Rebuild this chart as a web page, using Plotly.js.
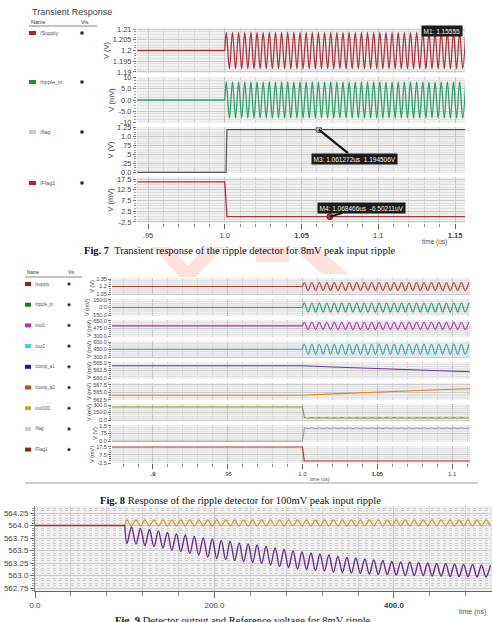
<!DOCTYPE html>
<html>
<head>
<meta charset="utf-8">
<script src="https://cdn.plot.ly/plotly-3.0.1.min.js"></script>
<style>
html,body{margin:0;padding:0;background:#fff;overflow:hidden}
#chart{width:492px;height:622px}
</style>
</head>
<body>
<div id="chart"></div>
<script>
// ---------- Fig. 7 : 8 mV peak input ripple (time in us) ----------
const fig7Time = [0.943, 1.0,
  1.001,1.003,1.005,1.007,1.009, 1.011,1.013,1.015,1.017,1.019,
  1.021,1.023,1.025,1.027,1.029, 1.031,1.033,1.035,1.037,1.039,
  1.041,1.043,1.045,1.047,1.049, 1.051,1.053,1.055,1.057,1.059,
  1.061,1.063,1.065,1.067,1.069, 1.071,1.073,1.075,1.077,1.079,
  1.081,1.083,1.085,1.087,1.089, 1.091,1.093,1.095,1.097,1.099,
  1.101,1.103,1.105,1.107,1.109, 1.111,1.113,1.115,1.117,1.119,
  1.121,1.123,1.125,1.127,1.129, 1.131,1.133,1.135,1.137,1.139,
  1.141,1.143,1.145,1.147,1.149, 1.151,1.153,1.155,1.157];
const fig7Supply = [1.2, 1.2,
  1.2085,1.1915,1.2085,1.1915,1.2085,1.1915,1.2085,1.1915,1.2085,1.1915,
  1.2085,1.1915,1.2085,1.1915,1.2085,1.1915,1.2085,1.1915,1.2085,1.1915,
  1.2085,1.1915,1.2085,1.1915,1.2085,1.1915,1.2085,1.1915,1.2085,1.1915,
  1.2085,1.1915,1.2085,1.1915,1.2085,1.1915,1.2085,1.1915,1.2085,1.1915,
  1.2085,1.1915,1.2085,1.1915,1.2085,1.1915,1.2085,1.1915,1.2085,1.1915,
  1.2085,1.1915,1.2085,1.1915,1.2085,1.1915,1.2085,1.1915,1.2085,1.1915,
  1.2085,1.1915,1.2085,1.1915,1.2085,1.1915,1.2085,1.1915,1.2085,1.1915,
  1.2085,1.1915,1.2085,1.1915,1.2085,1.1915,1.2085,1.1915,1.2085];
const fig7RippleIn = [0, 0,
  8.1,-8.1,8.1,-8.1,8.1,-8.1,8.1,-8.1,8.1,-8.1,
  8.1,-8.1,8.1,-8.1,8.1,-8.1,8.1,-8.1,8.1,-8.1,
  8.1,-8.1,8.1,-8.1,8.1,-8.1,8.1,-8.1,8.1,-8.1,
  8.1,-8.1,8.1,-8.1,8.1,-8.1,8.1,-8.1,8.1,-8.1,
  8.1,-8.1,8.1,-8.1,8.1,-8.1,8.1,-8.1,8.1,-8.1,
  8.1,-8.1,8.1,-8.1,8.1,-8.1,8.1,-8.1,8.1,-8.1,
  8.1,-8.1,8.1,-8.1,8.1,-8.1,8.1,-8.1,8.1,-8.1,
  8.1,-8.1,8.1,-8.1,8.1,-8.1,8.1,-8.1,8.1];
const fig7FlagTime = [0.943, 1.0008, 1.0014, 1.157];
const fig7Flag = [0.0, 0.0, 1.1945, 1.1945];
const fig7Flag1Time = [0.943, 1.0, 1.0014, 1.157];
const fig7Flag1 = [16.2, 16.2, 0.0, 0.0];
const m3Time = 1.061272, m3Volt = 1.194506;      // us, V
const m4Time = 1.068466, m4MicroVolt = -6.50211; // us, uV
const m1Text = 'M1: 1.15555';
const fig7Names = ['/Supply', '/ripple_in', '/flag', '/Flag1'];
const fig7XTicks = [0.95, 1.0, 1.05, 1.1, 1.15];
const fig7XLabels = ['.95', '1.0', '<b>1.05</b>', '1.1', '<b>1.15</b>'];
const fig7YTicks = [[1.21, 1.205, 1.2, 1.195, 1.19], [10, 5, 0, -5, -10], [1.25, 1.0, 0.75, 0.5, 0.25, 0.0], [17.5, 12.5, 7.5, 2.5, -2.5]];
const fig7YLabels = [['1.21', '1.205', '1.2', '1.195', '1.19'], ['10', '5.0', '0.0', '-5.0', '-10'], ['1.25', '1.0', '.75', '.5', '.25', '0.0'], ['17.5', '12.5', '7.5', '2.5', '-2.5']];
const fig7Units = ['V (V)', 'V (mV)', 'V (V)', 'V (mV)'];

// ---------- Fig. 8 : 100 mV peak input ripple (time in us) ----------
const fig8Time = [0.8726, 1.0,
  1.00125,1.00375,1.00625,1.00875,1.01125,1.01375,1.01625,1.01875,1.02125,1.02375,
  1.02625,1.02875,1.03125,1.03375,1.03625,1.03875,1.04125,1.04375,1.04625,1.04875,
  1.05125,1.05375,1.05625,1.05875,1.06125,1.06375,1.06625,1.06875,1.07125,1.07375,
  1.07625,1.07875,1.08125,1.08375,1.08625,1.08875,1.09125,1.09375,1.09625,1.09875,
  1.10125,1.10375,1.10625,1.10875,1.11125];
const fig8Supply = [1.2, 1.2,
  1.28,1.12,1.28,1.12,1.28,1.12,1.28,1.12,1.28,1.12,
  1.28,1.12,1.28,1.12,1.28,1.12,1.28,1.12,1.28,1.12,
  1.28,1.12,1.28,1.12,1.28,1.12,1.28,1.12,1.28,1.12,
  1.28,1.12,1.28,1.12,1.28,1.12,1.28,1.12,1.28,1.12,
  1.28,1.12,1.28,1.12,1.28];
const fig8RippleIn = [0, 0,
  88,-88,88,-88,88,-88,88,-88,88,-88,
  88,-88,88,-88,88,-88,88,-88,88,-88,
  88,-88,88,-88,88,-88,88,-88,88,-88,
  88,-88,88,-88,88,-88,88,-88,88,-88,
  88,-88,88,-88,88];
const fig8Out1 = [535, 535,
  620,450,620,450,620,450,620,450,620,450,
  620,450,620,450,620,450,620,450,620,450,
  620,450,620,450,620,450,620,450,620,450,
  620,450,620,450,620,450,620,450,620,450,
  620,450,620,450,620];
const fig8Out2 = [455, 455,
  555,355,555,355,555,355,555,355,555,355,
  555,355,555,355,555,355,555,355,555,355,
  555,355,555,355,555,355,555,355,555,355,
  555,355,555,355,555,355,555,355,555,355,
  555,355,555,355,555];
const fig8Out100 = [260, 260,
  48,34,47,34,47,34,47,34,47,34,
  47,34,47,34,47,34,47,34,47,34,
  47,34,47,34,47,34,47,34,47,34,
  47,34,47,34,47,34,47,34,47,34,
  47,34,47,34,47];
const fig8Flag = [0.0, 0.0,
  1.29,1.23,1.29,1.23,1.29,1.23,1.29,1.23,1.29,1.23,
  1.29,1.23,1.29,1.23,1.29,1.23,1.29,1.23,1.29,1.23,
  1.29,1.23,1.29,1.23,1.29,1.23,1.29,1.23,1.29,1.23,
  1.29,1.23,1.29,1.23,1.29,1.23,1.29,1.23,1.29,1.23,
  1.29,1.23,1.29,1.23,1.29];
const fig8SlowTime = [0.8726, 1.0, 1.02, 1.04, 1.06, 1.08, 1.1, 1.112];
const fig8CompA1 = [564.0, 564.0, 563.62, 563.25, 562.9, 562.58, 562.28, 562.12];
const fig8CompA2 = [564.0, 564.0, 564.45, 564.88, 565.28, 565.65, 566.0, 566.18];
const fig8Flag1Time = [0.8726, 1.0, 1.0012, 1.112];
const fig8Flag1 = [17.3, 17.3, 0.0, 0.0];
const fig8Names = ['/supply', '/ripple_in', '/out1', '/out2', '/comp_a1', '/comp_a2', '/out100', '/flag', '/Flag1'];
const fig8XTicks = [0.9, 0.95, 1.0, 1.05, 1.1];
const fig8XLabels = ['<b>.9</b>', '.95', '1.0', '<b>1.05</b>', '1.1'];
const fig8YTicks = [[1.35, 1.2, 1.05], [150, 0, -150], [650, 475, 300], [600, 450, 300], [565, 562.5, 560],
  [567.5, 565, 562.5], [300, 150, 0], [1.5, 0.75, 0], [17.5, 7.5, -2.5]];
const fig8YLabels = [['1.35', '1.2', '1.05'], ['150.0', '0.0', '-150.0'], ['650.0', '475.0', '300.0'], ['600.0', '450.0', '300.0'],
  ['565.0', '562.5', '560.0'], ['567.5', '565.0', '562.5'], ['300.0', '150.0', '0.0'], ['1.5', '.75', '0.0'], ['17.5', '7.5', '-2.5']];
const fig8Units = ['V (V)', 'V (mV)', 'V (mV)', 'V (mV)', 'V (mV)', 'V (mV)', 'V (mV)', 'V (V)', 'V (mV)'];

// ---------- Fig. 9 : detector output and reference (time in ns, mV) ----------
const fig9Time = [0, 100,
  102.5,107.5,112.5,117.5,122.5,127.5,132.5,137.5,142.5,147.5,
  152.5,157.5,162.5,167.5,172.5,177.5,182.5,187.5,192.5,197.5,
  202.5,207.5,212.5,217.5,222.5,227.5,232.5,237.5,242.5,247.5,
  252.5,257.5,262.5,267.5,272.5,277.5,282.5,287.5,292.5,297.5,
  302.5,307.5,312.5,317.5,322.5,327.5,332.5,337.5,342.5,347.5,
  352.5,357.5,362.5,367.5,372.5,377.5,382.5,387.5,392.5,397.5,
  402.5,407.5,412.5,417.5,422.5,427.5,432.5,437.5,442.5,447.5,
  452.5,457.5,462.5,467.5,472.5,477.5,482.5,487.5,492.5,497.5,
  502.5,507.5];
const detectorOut = [564.0, 564.0,
  563.64,563.97,563.63,563.94,563.60,563.92,563.58,563.89,563.55,563.86,
  563.51,563.83,563.48,563.81,563.44,563.78,563.41,563.75,563.37,563.73,
  563.34,563.70,563.32,563.68,563.30,563.65,563.28,563.63,563.26,563.61,
  563.24,563.58,563.21,563.55,563.18,563.52,563.16,563.49,563.13,563.47,
  563.12,563.45,563.10,563.43,563.09,563.41,563.07,563.38,563.06,563.36,
  563.05,563.35,563.04,563.33,563.03,563.31,563.02,563.30,563.02,563.28,
  563.01,563.27,563.00,563.27,563.00,563.26,563.00,563.25,562.99,563.24,
  562.99,563.24,562.98,563.23,562.98,563.22,562.98,563.22,562.97,563.21,
  562.97,563.21];
const referenceOut = [564.0, 564.0,
  564.11,563.99,564.11,563.99,564.11,563.99,564.11,563.99,564.11,563.99,
  564.11,563.99,564.11,563.99,564.11,563.99,564.11,563.99,564.11,563.99,
  564.11,563.99,564.11,563.99,564.11,563.99,564.11,563.99,564.11,563.99,
  564.11,563.99,564.11,563.99,564.11,563.99,564.11,563.99,564.11,563.99,
  564.11,563.99,564.11,563.99,564.11,563.99,564.11,563.99,564.11,563.99,
  564.11,563.99,564.11,563.99,564.11,563.99,564.11,563.99,564.11,563.99,
  564.11,563.99,564.11,563.99,564.11,563.99,564.11,563.99,564.11,563.99,
  564.11,563.99,564.11,563.99,564.11,563.99,564.11,563.99,564.11,563.99,
  564.11,563.99];
const fig9XTicks = [0, 200, 400];
const fig9XLabels = ['0.0', '200.0', '<b>400.0</b>'];
const fig9YTicks = [564.25, 564.0, 563.75, 563.5, 563.25, 563.0, 562.75];
const fig9YLabels = ['564.25', '564.0', '563.75', '563.5', '563.25', '563.0', '562.75'];

// ---------- page geometry helpers (pixels -> paper fractions) ----------
const W = 492, H = 622;
const fx = p => p / W;
const fy = p => 1 - p / H;

function yAxis(top, bottom, range, vals, text, unit, fs, minorStep, anchor) {
  return {
    domain: [fy(bottom), fy(top)], range: range, anchor: anchor,
    tickmode: 'array', tickvals: vals, ticktext: text,
    ticks: 'outside', ticklen: 3, tickcolor: '#777', tickwidth: 1,
    tickfont: {size: fs, color: '#444'},
    showgrid: true, gridcolor: '#cbcbcb', gridwidth: 1, zeroline: false, showline: false,
    minor: {dtick: minorStep, tick0: vals[vals.length - 1], ticks: 'outside', ticklen: 2,
            tickcolor: '#9a9a9a', showgrid: true, gridcolor: '#e0e0e0', gridwidth: 1},
    title: {text: unit, font: {size: fs, color: '#444'}, standoff: 2},
    automargin: false, fixedrange: true
  };
}
function xAxis(left, right, range, vals, text, fs, minorStep, anchor) {
  return {
    domain: [fx(left), fx(right)], range: range, anchor: anchor,
    tickmode: 'array', tickvals: vals, ticktext: text,
    ticks: 'outside', ticklen: 5, tickcolor: '#666', tickwidth: 1,
    tickfont: {size: fs, color: '#444'},
    showgrid: true, gridcolor: '#c6c6c6', zeroline: false, showline: false,
    minor: {dtick: minorStep, tick0: vals[0], ticks: 'outside', ticklen: 3, tickcolor: '#888',
            showgrid: true, gridcolor: '#d6d6d6'},
    automargin: false, fixedrange: true
  };
}
function line(x, y, xa, ya, color, width, shape) {
  return {x: x, y: y, xaxis: xa, yaxis: ya, mode: 'lines', hoverinfo: 'skip',
          line: {color: color, width: width, shape: shape || 'linear'}};
}
// a flat run before the step, then a smoothed oscillation from the step onwards
function stepWave(x, y, xa, ya, color, width) {
  return [line(x.slice(0, 2), y.slice(0, 2), xa, ya, color, width),
          line(x.slice(1), y.slice(1), xa, ya, color, width, 'spline')];
}

const layout = {
  width: W, height: H, margin: {l: 0, r: 0, t: 0, b: 0},
  paper_bgcolor: '#ffffff', plot_bgcolor: '#f1f1f1', showlegend: false,
  font: {family: 'Liberation Sans, DejaVu Sans, sans-serif', size: 7, color: '#333'},
  annotations: [], shapes: []
};

// ----- Fig. 7 axes -----
const fig7Panels = [[28, 73], [77, 123], [127, 173], [177, 223]];
const fig7Ranges = [[1.1895, 1.2105], [-10.3, 10.3], [-0.02, 1.27], [-2.97, 18.43]];
const fig7Minor = [0.00125, 1.25, 0.0625, 1.25];
layout.xaxis = xAxis(137, 465, [0.9428, 1.1565], fig7XTicks, fig7XLabels, 7.5, 0.01, 'y4');
for (let i = 0; i < 4; i++) {
  layout['yaxis' + (i === 0 ? '' : i + 1)] = yAxis(fig7Panels[i][0], fig7Panels[i][1], fig7Ranges[i],
    fig7YTicks[i], fig7YLabels[i], fig7Units[i], 7.5, fig7Minor[i], 'x');
}

// ----- Fig. 8 axes -----
const fig8Top = [278, 299, 320, 341, 362, 383, 404, 425, 446];
const fig8Ranges = [[1.03, 1.37], [-165, 165], [280, 670], [280, 620], [559.8, 565.2],
  [562.4, 568.1], [-20, 320], [-0.08, 1.58], [-2.5, 18.5]];
const fig8Minor = [0.0375, 37.5, 43.75, 37.5, 0.625, 0.625, 37.5, 0.1875, 2.5];
layout.xaxis2 = xAxis(112, 470, [0.8726, 1.112], fig8XTicks, fig8XLabels, 6, 0.01, 'y13');
for (let i = 0; i < 9; i++) {
  layout['yaxis' + (i + 5)] = yAxis(fig8Top[i], fig8Top[i] + 17, fig8Ranges[i],
    fig8YTicks[i], fig8YLabels[i], fig8Units[i], 5.5, fig8Minor[i], 'x2');
  layout['yaxis' + (i + 5)].title.standoff = 1;
}

// ----- Fig. 9 axes -----
layout.xaxis3 = xAxis(35, 492, [0, 509.2], fig9XTicks, fig9XLabels, 8, 40, 'y14');
layout.xaxis3.showline = true; layout.xaxis3.linecolor = '#666';
layout.xaxis3.ticklen = 6; layout.xaxis3.minor.ticklen = 4;
layout.xaxis3.minor.gridcolor = '#d9d9d9';
layout.yaxis14 = yAxis(506, 591, [562.69, 564.39], fig9YTicks, fig9YLabels, '', 8, 0.05, 'x3');
layout.yaxis14.ticklen = 4;
layout.yaxis14.showline = true; layout.yaxis14.linecolor = '#888';
layout.yaxis14.minor.griddash = 'dot'; layout.yaxis14.minor.gridcolor = '#cfcfcf';

// ----- traces -----
const red7 = '#b3313b', green7 = '#2aa06a';
const traces = [].concat(
  stepWave(fig7Time, fig7Supply, 'x', 'y', red7, 1.3),
  stepWave(fig7Time, fig7RippleIn, 'x', 'y2', green7, 1.3),
  [line(fig7FlagTime, fig7Flag, 'x', 'y3', '#555', 1.2),
   line(fig7Flag1Time, fig7Flag1, 'x', 'y4', red7, 1.3),
   {x: [m3Time], y: [m3Volt], xaxis: 'x', yaxis: 'y3', mode: 'markers', hoverinfo: 'skip',
    marker: {size: 6, color: '#b5b5b5', line: {color: '#555', width: 1}}},
   {x: [m4Time], y: [m4MicroVolt / 1000], xaxis: 'x', yaxis: 'y4', mode: 'markers', hoverinfo: 'skip',
    marker: {size: 6, color: '#c4304c', line: {color: '#8a1a30', width: 1}}}],

  stepWave(fig8Time, fig8Supply, 'x2', 'y5', '#bb3b3b', 1.1),
  stepWave(fig8Time, fig8RippleIn, 'x2', 'y6', '#2c9a6c', 1.1),
  stepWave(fig8Time, fig8Out1, 'x2', 'y7', '#b02cb4', 1.1),
  stepWave(fig8Time, fig8Out2, 'x2', 'y8', '#2aa7a8', 1.1),
  [line(fig8SlowTime, fig8CompA1, 'x2', 'y9', '#6b3a9c', 1.1),
   line(fig8SlowTime, fig8CompA2, 'x2', 'y10', '#d28a34', 1.1),
   line(fig8Time, fig8Out100, 'x2', 'y11', '#8c9e24', 1.1),
   line(fig8Time, fig8Flag, 'x2', 'y12', '#9696a8', 1.0),
   line(fig8Flag1Time, fig8Flag1, 'x2', 'y13', '#bf2f2f', 1.1)],

  [line(fig9Time.slice(1), referenceOut.slice(1), 'x3', 'y14', '#d7a128', 1.3, 'spline'),
   line(fig9Time.slice(1), detectorOut.slice(1), 'x3', 'y14', '#6a2b8c', 1.4, 'spline'),
   line(fig9Time.slice(0, 2), referenceOut.slice(0, 2), 'x3', 'y14', '#9b2d2d', 1.4)]
);

// ----- text helpers -----
function txt(x, y, s, size, opts) {
  const a = Object.assign({xref: 'paper', yref: 'paper', x: fx(x), y: fy(y), text: s, showarrow: false,
    xanchor: 'left', yanchor: 'middle', font: {size: size, color: '#333'}}, opts || {});
  layout.annotations.push(a);
}
function rect(x0, y0, x1, y1, fill) {
  layout.shapes.push({type: 'rect', xref: 'paper', yref: 'paper', x0: fx(x0), x1: fx(x1), y0: fy(y1), y1: fy(y0),
    fillcolor: fill, line: {width: 0}, layer: 'above'});
}
function dot(x, y, r, fill) {
  layout.shapes.push({type: 'circle', xref: 'paper', yref: 'paper', x0: fx(x - r), x1: fx(x + r), y0: fy(y + r), y1: fy(y - r),
    fillcolor: fill, line: {width: 0.6, color: '#8892a8'}, layer: 'above'});
}
function hline(x0, x1, y, color) {
  layout.shapes.push({type: 'line', xref: 'paper', yref: 'paper', x0: fx(x0), x1: fx(x1), y0: fy(y), y1: fy(y),
    line: {color: color, width: 1}});
}

// ----- Fig. 7 signal list -----
txt(30, 12, 'Transient Response', 9, {font: {size: 9, color: '#444'}});
txt(29, 22, 'Name', 5.5);
txt(79, 22, 'Vis', 5.5);
hline(29, 97, 26, '#888');
const fig7Swatch = ['#b0222c', '#1f8a3c', '#c9c9ea', '#b0222c'];
const fig7Rows = [33, 82, 132, 183];
fig7Names.forEach((n, i) => {
  rect(29, fig7Rows[i] - 2, 36, fig7Rows[i] + 2, fig7Swatch[i]);
  txt(38, fig7Rows[i], n, 5.5, {font: {size: 5.5, color: '#555'}});
  dot(82, fig7Rows[i], 1.8, '#1c2436');
});
txt(420, 242, 'time (us)', 6.5, {font: {size: 6.5, color: '#555'}});

// marker call-outs
layout.annotations.push({x: m3Time, y: m3Volt, xref: 'x', yref: 'y3',
  text: 'M3: ' + m3Time + 'us  ' + m3Volt + 'V', showarrow: true, arrowhead: 0, arrowwidth: 2.2,
  arrowcolor: '#151515', ax: 36, ay: 29, bgcolor: '#1c1c1c', borderpad: 1.5,
  font: {size: 6.5, color: '#f2f2f2'}});
layout.annotations.push({x: m4Time, y: m4MicroVolt / 1000, xref: 'x', yref: 'y4',
  text: 'M4: ' + m4Time + 'us  ' + m4MicroVolt + 'uV', showarrow: true, arrowhead: 0, arrowwidth: 2,
  arrowcolor: '#151515', ax: 32, ay: -9, bgcolor: '#1c1c1c', borderpad: 1.5,
  font: {size: 6.5, color: '#f2f2f2'}});
txt(421, 31.5, m1Text, 6.5, {bgcolor: '#1c1c1c', borderpad: 1.5, font: {size: 6.5, color: '#f2f2f2'}});

// captions
const serif = 'Liberation Serif, Times New Roman, serif';
txt(240, 250, '<b>Fig. 7</b>  Transient response of the ripple detector for 8mV peak input ripple', 10.5,
  {xanchor: 'center', font: {size: 10.5, color: '#111', family: serif}});
txt(240, 501, '<b>Fig. 8</b> Response of the ripple detector for 100mV peak input ripple', 10.5,
  {xanchor: 'center', font: {size: 10.5, color: '#111', family: serif}});
txt(243, 620, '<b>Fig. 9</b> Detector output and Reference voltage for 8mV ripple', 10.5,
  {xanchor: 'center', font: {size: 10.5, color: '#111', family: serif}});

// ----- Fig. 8 signal list -----
txt(25, 273, 'Name', 4.5);
txt(66, 273, 'Vis', 4.5);
hline(25, 82, 277, '#888');
const fig8Swatch = ['#a01c1c', '#137a2a', '#c524c8', '#3ad2e2', '#1a1a8c', '#c8421a', '#b4b424', '#c8c8e8', '#b01818'];
fig8Names.forEach((n, i) => {
  const y = 284 + i * 20.7;
  rect(25, y - 2, 31, y + 2, fig8Swatch[i]);
  txt(33, y, n, 4.5, {font: {size: 4.5, color: '#555'}});
  dot(69, y, 1.5, '#1c2436');
});
txt(320, 479, 'time (us)', 5, {xanchor: 'center', font: {size: 5, color: '#555'}});
hline(25, 478, 483, '#9a9a9a');

// ----- Fig. 9 -----
txt(472, 612, 'time (ns)', 7, {xanchor: 'center', font: {size: 7, color: '#555'}});

// faint publisher watermark behind the captions
const mark = 'rgba(246,118,108,0.22)';
[
  'M152,247 L170,247 L188,266 L206,247 L224,247 L196,277 L180,277 Z',
  'M256,247 L289,247 L289,262 L256,262 Z',
  'M292,247 L318,247 L348,274 L322,274 Z'
].forEach(p => {
  layout.shapes.push({type: 'path', xref: 'paper', yref: 'paper', path: p.replace(/(\d+),(\d+)/g,
    (m, a, b) => fx(+a) + ',' + fy(+b)), fillcolor: mark, line: {width: 0}, layer: 'below'});
});

Plotly.newPlot('chart', traces, layout, {staticPlot: true, displayModeBar: false});
</script>
</body>
</html>
